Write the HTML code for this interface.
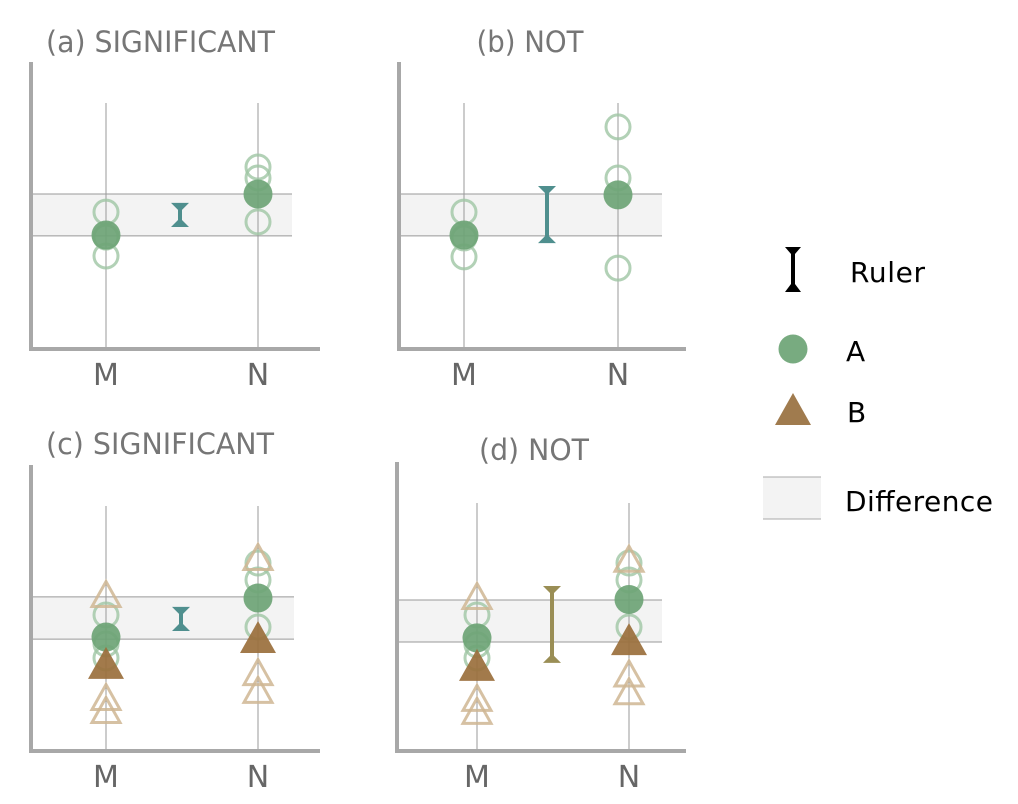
<!DOCTYPE html>
<html><head><meta charset="utf-8">
<style>
html,body{margin:0;padding:0;background:#fff;}
svg{display:block;font-family:"DejaVu Sans","Liberation Sans",sans-serif;}
</style></head>
<body>
<svg id="chart" width="1018" height="804" viewBox="0 0 1018 804" xmlns="http://www.w3.org/2000/svg">
<g id="panels"></g>
<g id="legend">
  <path d="M785,247 L801,247 L795,254 L795,284 L801,292 L785,292 L791,284 L791,254 Z" fill="#000"/>
  <text x="850" y="282" font-size="28" fill="#000" textLength="75">Ruler</text>
  <circle cx="793" cy="349" r="14.5" fill="#78ab80"/>
  <text x="846" y="361" font-size="28" fill="#000">A</text>
  <path d="M793,393 L811,425 L775,425 Z" fill="#a07b4e"/>
  <text x="847" y="422" font-size="28" fill="#000">B</text>
  <rect x="763" y="477" width="58" height="42" fill="#f3f3f3"/>
  <line x1="763" y1="477" x2="821" y2="477" stroke="#aaa" stroke-width="1"/>
  <line x1="763" y1="519" x2="821" y2="519" stroke="#aaa" stroke-width="1"/>
  <text x="845" y="511" font-size="28" fill="#000" textLength="148">Difference</text>
</g>
</svg>
<script>
// Values on a 0..100 scale (0 = x-axis)
const panelTitles = ["(a) SIGNIFICANT", "(b) NOT", "(c) SIGNIFICANT", "(d) NOT"];
const categories = ["M", "N"];
const bandLow = [39.4, 39.4, 39.0, 38.0];
const bandHigh = [54.0, 54.0, 53.7, 52.6];
const rulerLow = [42.5, 36.9, 41.8, 30.7];
const rulerHigh = [50.9, 56.8, 50.2, 57.5];
const aMeanM = [39.7, 39.7, 39.7, 39.4];
const aMeanN = [54.0, 53.7, 53.3, 52.8];
const aSamplesM = [[47.7, 39.0, 32.4], [47.7, 38.7, 32.1], [47.4, 37.3, 32.4], [47.4, 37.0, 32.4]];
const aSamplesN = [[63.4, 59.6, 44.3], [77.4, 59.6, 28.2], [65.5, 59.6, 43.2], [65.5, 59.6, 43.2]];
const bMeanM = [null, null, 30.7, 30.0];
const bMeanN = [null, null, 39.7, 39.0];
const bSamplesM = [[], [], [54.7, 18.8, 14.3], [54.0, 18.5, 14.0]];
const bSamplesN = [[], [], [67.6, 27.5, 21.3], [67.0, 27.0, 20.8]];

const layout = [
  {ox:31, base:349, top:62, xM:106, xN:258, bandR:292, axR:320, rulerX:180, rc:"#4f8f8e", tx:46, ty:52, ta:"start", tl:229},
  {ox:399, base:349, top:62, xM:464, xN:618, bandR:662, axR:686, rulerX:547, rc:"#4f8f8e", tx:530, ty:52, ta:"middle", tl:107},
  {ox:31, base:751, top:465, xM:106, xN:258, bandR:294, axR:320, rulerX:181, rc:"#4f8f8e", tx:46, ty:454, ta:"start", tl:228},
  {ox:397, base:751, top:462, xM:477, xN:629, bandR:662, axR:686, rulerX:552, rc:"#9a8e55", tx:534, ty:460, ta:"middle", tl:110}
];
const NS = "http://www.w3.org/2000/svg";
const root = document.getElementById("panels");
function mk(tag, attrs, parent){ const e=document.createElementNS(NS,tag); for(const k in attrs) e.setAttribute(k,attrs[k]); parent.appendChild(e); return e; }
const K = 2.87;
function yScale(L, v){ return L.base - v*K; }
function tri(cx, cy, w, h){ return `M${cx},${cy-h/2} L${cx+w/2},${cy+h/2} L${cx-w/2},${cy+h/2} Z`; }

layout.forEach((L, i) => {
  const g = mk("g", {}, root);
  
  
  const t = mk("text", {x:L.tx, y:L.ty, "font-size":29, fill:"#767676", "text-anchor":L.ta, textLength:L.tl, lengthAdjust:"spacingAndGlyphs"}, g);
  t.textContent = panelTitles[i];
  
  
  const y1 = yScale(L, bandHigh[i]), y0 = yScale(L, bandLow[i]);
  const band = mk("rect", {x:L.ox, y:y1, width:L.bandR-L.ox, height:y0-y1, fill:"#f3f3f3"}, g);
  
  
  mk("line", {x1:L.ox, x2:L.bandR, y1:y1, y2:y1, stroke:"#999", "stroke-width":1}, g);
  mk("line", {x1:L.ox, x2:L.bandR, y1:y0, y2:y0, stroke:"#999", "stroke-width":1}, g);
  const xs = [L.xM, L.xN];
  xs.forEach((x, j) => {
    const gl = mk("line", {x1:x, x2:x, y1:L.top+41, y2:L.base, stroke:"#999", "stroke-width":1}, g);
    
    
    const lb = mk("text", {x:x, y:L.base+36, "font-size":30, fill:"#666", "text-anchor":"middle"}, g);
    lb.textContent = categories[j];
    
    
  });
  const ax = mk("path", {d:`M${L.ox},${L.top} L${L.ox},${L.base} L${L.axR},${L.base}`, fill:"none", stroke:"#a8a8a8", "stroke-width":4}, g);
  
  
  [[L.xM, aSamplesM[i]], [L.xN, aSamplesN[i]]].forEach(([x, arr]) => arr.forEach(v => {
    const c = mk("circle", {cx:x, cy:yScale(L, v), r:12, fill:"none", stroke:"#9fc6a4", "stroke-width":3, opacity:0.8}, g);
    
    
  }));
  [[L.xM, bSamplesM[i]], [L.xN, bSamplesN[i]]].forEach(([x, arr]) => arr.forEach(v => {
    const p = mk("path", {d:tri(x, yScale(L, v), 28, 25), fill:"none", stroke:"#cfb693", "stroke-width":3, opacity:0.85}, g);
    
    
  }));
  [[L.xM, aMeanM[i]], [L.xN, aMeanN[i]]].forEach(([x, v]) => {
    const c = mk("circle", {cx:x, cy:yScale(L, v), r:14.5, fill:"#6ea476", opacity:0.92}, g);
    
    
  });
  [[L.xM, bMeanM[i]], [L.xN, bMeanN[i]]].forEach(([x, v]) => {
    if (v === null) return;
    const p = mk("path", {d:tri(x, yScale(L, v), 36, 32), fill:"#9a6f3c", opacity:0.92}, g);
    
    
  });
  const rt = yScale(L, rulerHigh[i]), rb = yScale(L, rulerLow[i]), rx = L.rulerX;
  const r = mk("path", {d:`M${rx-9},${rt} L${rx+9},${rt} L${rx+2},${rt+7} L${rx+2},${rb-7} L${rx+9},${rb} L${rx-9},${rb} L${rx-2},${rb-7} L${rx-2},${rt+7} Z`, fill:L.rc}, g);
  
  
});
</script>
</body></html>
